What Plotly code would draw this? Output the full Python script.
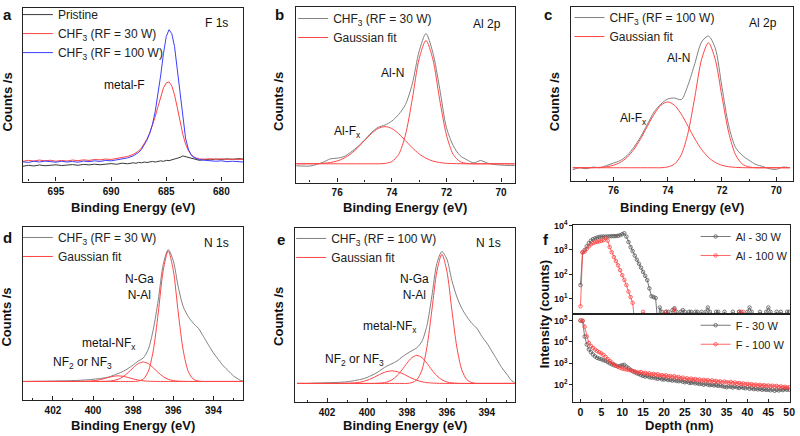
import plotly.graph_objects as go

W, H = 800, 436
FONT = "Liberation Sans, Arial, sans-serif"
AX = "#222222"
GRAY = "#808080"
DARK = "#3a3a3a"
RED = "#ff4545"
BLUE = "#3d3dff"

# ---------------- panel a : F 1s ----------------
a_be = [698, 697.5, 697, 696.5, 696, 695.5, 695, 694.5, 694, 693.5, 693, 692.5, 692, 691.5, 691, 690.5,
        690, 689.5, 689, 688.5,
        688, 687.75, 687.5, 687.25, 687, 686.75, 686.5, 686.25, 686, 685.75, 685.5, 685.25, 685, 684.75,
        684.5, 684.25, 684, 683.75, 683.5, 683.25, 683, 682.75, 682.5, 682.25, 682,
        681.5, 681, 680.5, 680, 679.5, 679, 678.5, 678]
a_pristine = [15.5, 16.5, 15.8, 16.8, 16.0, 16.3, 17.0, 16.2, 16.8, 17.2, 16.5, 17.4, 16.9, 17.6, 17.0, 17.8,
              18.2, 17.5, 18.6, 18.0,
              19.0, 18.5, 19.4, 19.0, 19.8, 19.3, 20.0, 20.4, 19.8, 20.6, 21.0, 20.5, 21.5, 21.2, 22.0, 22.8,
              23.5, 24.5, 26.0, 25.2, 24.8, 23.8, 23.2, 22.0, 21.5,
              22.5, 22.0, 22.8, 22.3, 23.0, 22.5, 23.2, 22.8]
a_rf30 = [20.5, 21.5, 20.8, 21.8, 21.0, 21.6, 20.6, 21.4, 20.8, 21.8, 21.2, 22.0, 21.4, 22.4, 22.0, 22.8,
          22.4, 23.4, 24.0, 25.5,
          27.5, 29.0, 31.0, 34.0, 38.0, 43.0, 49.0, 57.0, 66.0, 76.0, 86.0, 95.0, 100.0, 101.0, 97.0, 88.0,
          75.0, 61.0, 48.0, 38.0, 31.5, 27.5, 25.0, 23.8, 23.0,
          22.6, 23.2, 22.5, 23.0, 22.4, 22.8, 22.2, 22.6]
a_rf100 = [20.0, 19.4, 20.6, 19.8, 20.8, 20.0, 19.6, 20.6, 19.8, 20.4, 19.6, 20.8, 20.2, 21.0, 20.4, 21.4,
           21.0, 22.0, 22.8, 24.0,
           26.0, 27.5, 29.5, 32.5, 37.0, 42.0, 49.0, 58.0, 71.0, 88.0, 108.0, 130.0, 147.0, 154.0, 150.0,
           137.0, 114.0, 88.0, 63.0, 44.0, 33.0, 27.0, 24.5, 23.0, 22.2,
           21.5, 21.0, 20.6, 21.0, 20.2, 20.6, 20.0, 19.8]

# ---------------- panel b : Al 2p, 30 W ----------------
b_be = [77.5, 77.25, 77.0, 76.75, 76.5, 76.25, 76.0, 75.75, 75.5, 75.25, 75.0, 74.75, 74.5, 74.25, 74.0,
        73.75, 73.5, 73.25, 73.0, 72.75, 72.5, 72.25, 72.0, 71.75, 71.5, 71.25, 71.0, 70.75, 70.5, 70.25,
        70.0, 69.75, 69.5]
b_meas = [17.0, 16.7, 16.7, 18.3, 20.7, 24.0, 24.7, 26.3, 30.7, 36.3, 43.0, 50.5, 56.0, 58.3, 62.3, 69.0,
          79.0, 100.0, 133.0, 151.0, 132.0, 95.7, 55.7, 37.3, 27.3, 23.0, 20.0, 22.3, 19.7, 18.3, 17.7,
          17.3, 17.3]
b_alfx = [19.0, 19.0, 19.1, 19.2, 19.5, 20.3, 21.8, 24.7, 29.1, 35.2, 42.5, 49.5, 54.8, 56.7, 54.8, 49.5,
          42.5, 35.2, 29.1, 24.7, 21.8, 20.3, 19.5, 19.2, 19.1, 19.0, 19.0, 19.0, 19.0, 19.0, 19.0, 19.0,
          19.0]
b_aln = [19.0, 19.0, 19.0, 19.0, 19.0, 19.0, 19.0, 19.0, 19.0, 19.0, 19.0, 19.0, 19.0, 19.4, 21.2, 28.4,
         48.2, 84.5, 125.4, 144.0, 125.4, 84.5, 48.2, 28.4, 21.2, 19.4, 19.0, 19.0, 19.0, 19.0, 19.0, 19.0,
         19.0]

# ---------------- panel c : Al 2p, 100 W ----------------
c_be = [77.5, 77.25, 77.0, 76.75, 76.5, 76.25, 76.0, 75.75, 75.5, 75.25, 75.0, 74.75, 74.5, 74.25, 74.0,
        73.75, 73.5, 73.25, 73.0, 72.75, 72.5, 72.25, 72.0, 71.75, 71.5, 71.25, 71.0, 70.75, 70.5, 70.25,
        70.0, 69.75, 69.5]
c_meas = [11.5, 13.5, 12.5, 14.2, 13.5, 15.8, 18.2, 20.8, 25.8, 34.2, 44.8, 57.5, 70.2, 78.2, 83.2, 84.2,
          82.5, 97.5, 119.2, 141.0, 147.0, 135.0, 95.0, 56.0, 34.0, 26.0, 21.0, 16.8, 14.8, 12.5, 11.8,
          14.2, 13.5]
c_alfx = [13.5, 13.5, 13.5, 13.6, 13.9, 14.5, 16.0, 18.9, 24.0, 32.0, 42.8, 55.5, 67.8, 76.9, 80.2, 76.9,
          67.8, 55.5, 42.8, 32.0, 24.0, 18.9, 16.0, 14.5, 13.9, 13.6, 13.5, 13.5, 13.5, 13.5, 13.5, 13.5,
          13.5]
c_aln = [13.5, 13.5, 13.5, 13.5, 13.5, 13.5, 13.5, 13.5, 13.5, 13.5, 13.5, 13.5, 13.5, 13.5, 14.3, 17.2,
         26.7, 49.0, 85.4, 123.5, 140.2, 123.5, 85.4, 49.0, 26.7, 17.2, 14.3, 13.5, 13.5, 13.5, 13.5, 13.5,
         13.5]

# ---------------- panels d / e : N 1s ----------------
n_be = [403.5, 403.25, 403.0, 402.75, 402.5, 402.25, 402.0, 401.75, 401.5, 401.25, 401.0, 400.75, 400.5,
        400.25, 400.0, 399.75, 399.5, 399.25, 399.0, 398.75, 398.5, 398.25, 398.0, 397.75, 397.5, 397.25,
        397.0, 396.75, 396.5, 396.25, 396.0, 395.75, 395.5, 395.25, 395.0, 394.75, 394.5, 394.25, 394.0,
        393.75, 393.5, 393.25, 393.0, 392.75, 392.5]
d_meas = [19.3, 19.3, 19.4, 19.5, 19.5, 19.6, 19.7, 19.8, 19.9, 20.0, 20.2, 20.4, 20.7, 21.0, 21.5, 22.0,
          22.7, 23.6, 25.4, 27.3, 29.5, 32.5, 36.0, 40.0, 43.0, 51.7, 71.7, 101.7, 138.0, 153.0, 141.7,
          115.0, 95.0, 85.0, 78.3, 73.3, 65.0, 56.5, 48.3, 41.5, 35.0, 30.0, 25.0, 21.5, 19.3]
d_nga = [19.3, 19.3, 19.3, 19.3, 19.3, 19.3, 19.3, 19.3, 19.3, 19.3, 19.3, 19.3, 19.3, 19.3, 19.3, 19.3,
         19.3, 19.3, 19.3, 19.3, 19.3, 19.3, 19.3, 19.7, 21.6, 29.3, 50.3, 88.7, 132.0, 151.7, 132.0, 88.7,
         50.3, 29.3, 21.6, 19.7, 19.3, 19.3, 19.3, 19.3, 19.3, 19.3, 19.3, 19.3, 19.3]
d_nfx = [19.3, 19.3, 19.3, 19.3, 19.3, 19.3, 19.3, 19.3, 19.3, 19.3, 19.3, 19.3, 19.3, 19.3, 19.3, 19.3,
         19.4, 19.6, 20.2, 21.5, 24.2, 28.3, 33.2, 37.4, 39.0, 37.4, 33.2, 28.3, 24.2, 21.5, 20.2, 19.6,
         19.4, 19.3, 19.3, 19.3, 19.3, 19.3, 19.3, 19.3, 19.3, 19.3, 19.3, 19.3, 19.3]
d_nf23 = [19.3, 19.3, 19.3, 19.3, 19.3, 19.3, 19.3, 19.3, 19.3, 19.3, 19.3, 19.3, 19.4, 19.55, 19.95, 20.7,
          21.9, 23.3, 24.5, 25.0, 24.5, 23.3, 21.9, 20.7, 19.95, 19.55, 19.4, 19.3, 19.3, 19.3, 19.3, 19.3,
          19.3, 19.3, 19.3, 19.3, 19.3, 19.3, 19.3, 19.3, 19.3, 19.3, 19.3, 19.3, 19.3]
e_meas = [19.3, 19.3, 19.3, 19.5, 19.7, 19.8, 20.0, 20.1, 20.3, 20.6, 21.0, 21.7, 22.7, 23.7, 25.3, 27.7,
          30.3, 33.7, 37.0, 39.3, 42.0, 46.0, 49.5, 52.5, 55.5, 62.0, 78.0, 108.0, 141.0, 153.0, 145.3,
          123.7, 107.0, 95.3, 87.0, 80.3, 75.3, 67.0, 60.3, 52.0, 43.7, 35.3, 28.7, 22.0, 19.3]
e_nga = [19.3, 19.3, 19.3, 19.3, 19.3, 19.3, 19.3, 19.3, 19.3, 19.3, 19.3, 19.3, 19.3, 19.3, 19.3, 19.3,
         19.3, 19.3, 19.3, 19.3, 19.3, 19.3, 19.3, 20.1, 23.1, 32.9, 56.0, 93.7, 133.0, 150.3, 133.0, 93.7,
         56.0, 32.9, 23.1, 20.1, 19.3, 19.3, 19.3, 19.3, 19.3, 19.3, 19.3, 19.3, 19.3]
e_nfx = [19.3, 19.3, 19.3, 19.3, 19.3, 19.3, 19.3, 19.3, 19.3, 19.3, 19.3, 19.3, 19.3, 19.3, 19.3, 19.3,
         19.45, 19.8, 20.8, 23.0, 27.0, 33.0, 39.8, 45.5, 47.7, 45.5, 39.8, 33.0, 27.0, 23.0, 20.8, 19.8,
         19.45, 19.3, 19.3, 19.3, 19.3, 19.3, 19.3, 19.3, 19.3, 19.3, 19.3, 19.3, 19.3]
e_nf23 = [19.3, 19.3, 19.3, 19.3, 19.3, 19.3, 19.3, 19.3, 19.3, 19.35, 19.45, 19.7, 20.1, 21.0, 22.5, 24.5,
          27.0, 29.5, 31.3, 32.0, 31.3, 29.5, 27.0, 24.5, 22.5, 21.0, 20.1, 19.7, 19.45, 19.35, 19.3, 19.3,
          19.3, 19.3, 19.3, 19.3, 19.3, 19.3, 19.3, 19.3, 19.3, 19.3, 19.3, 19.3, 19.3]

# ---------------- panel f : depth profiles ----------------
f_depth = [0, 0.5, 1, 1.5, 2, 2.5, 3, 3.5, 4, 4.5, 5, 5.5, 6, 6.5, 7, 7.5, 8, 8.5, 9, 9.5,
           10, 10.5, 11, 11.5, 12, 12.5, 13, 13.5, 14, 14.5, 15, 15.5, 16, 16.5, 17, 17.5, 18, 18.5, 19, 19.5,
           20, 20.5, 21, 21.5, 22, 22.5, 23, 23.5, 24, 24.5, 25, 25.5, 26, 26.5, 27, 27.5, 28, 28.5, 29, 29.5,
           30, 30.5, 31, 31.5, 32, 32.5, 33, 33.5, 34, 34.5, 35, 35.5, 36, 36.5, 37, 37.5, 38, 38.5, 39, 39.5,
           40, 40.5, 41, 41.5, 42, 42.5, 43, 43.5, 44, 44.5, 45, 45.5, 46, 46.5, 47, 47.5, 48, 48.5, 49, 49.5,
           50]
f_al30 = [37, 800, 1000, 1400, 1900, 2400, 2750, 3000, 3200, 3400, 3500, 3550, 3500, 3550, 3600, 3650, 3650,
          3700, 3800, 4000,
          4400, 4800, 3500, 2100, 1300, 900, 590, 400, 275, 190, 128, 88, 59, 27, 13, 12, 11, 1, 4.5, 3,
          1, 3, 3, 1, 3.5, 4.2, 3, 1, 3, 3.5, 3, 1, 3, 3, 1, 3, 3, 1, 3, 1,
          3, 4.5, 3, 1, 1, 3, 3, 1, 1, 3, 1, 1, 1, 3, 1, 1, 3, 3, 1, 1,
          3, 4.5, 3, 1, 1, 1, 3, 1, 1, 3, 4.5, 3, 1, 1, 3, 1, 3, 1, 1, 3,
          3]
f_al100 = [5, 800, 850, 1100, 1400, 1700, 1900, 2050, 2150, 2250, 2350, 2500, 3000, 2400, 1300, 800, 510,
           350, 235, 150,
           94, 60, 37, 20, 12, 7, 1, 1, 1, 1, 3, 1, 1, 1, 1, 1, 1, 1, 1, 1,
           1, 3, 1, 1, 1, 3.8, 1, 1, 1, 1, 1, 1, 1, 1, 1, 1, 1, 1, 1, 1,
           1, 1, 1, 1, 1, 1, 1, 1, 1, 1, 1, 1, 1, 1, 1, 1, 3, 1, 3, 1,
           1, 1, 1, 1, 1, 1, 1, 1, 1, 1, 1, 1, 1, 1, 1, 1, 1, 1, 1, 1,
           1]
f_f30 = [100000, 95000, 18000, 7600, 4500, 3300, 2600, 2100, 1800, 1650,
         1550, 1400, 1300, 1150, 1000, 900, 820, 760, 700, 760,
         820, 850, 700, 600, 500, 430, 380, 340, 316, 280,
         260, 240, 255, 225, 215, 220, 200, 190, 205, 180,
         175, 185, 165, 170, 155, 165, 150, 145, 155, 138,
         130, 140, 125, 120, 130, 115, 118, 108, 112, 100,
         110, 102, 95, 100, 92, 96, 88, 92, 85, 80,
         76, 84, 80, 74, 82, 76, 70, 78, 72, 68,
         76, 64, 70, 62, 66, 60, 64, 58, 62, 57,
         59, 55, 60, 52, 58, 54, 60, 56, 62, 58,
         59]
f_f100 = [100000, 100000, 52000, 18000, 9000, 6500, 5300, 4400, 3700, 3300,
          2900, 2500, 2000, 1600, 1300, 1080, 900, 780, 700, 620,
          570, 540, 520, 490, 480, 430, 420, 380, 370, 390,
          340, 360, 320, 340, 300, 320, 290, 310, 270, 280,
          260, 275, 240, 255, 230, 250, 215, 230, 200, 215,
          185, 200, 175, 195, 170, 185, 165, 175, 155, 170,
          155, 165, 145, 160, 140, 150, 135, 145, 130, 140,
          130, 125, 135, 118, 128, 112, 120, 108, 115, 104,
          110, 100, 106, 96, 102, 92, 98, 90, 95, 88,
          92, 86, 90, 82, 88, 78, 84, 76, 80, 74,
          76]
f_depth_ticks = [0, 5, 10, 15, 20, 25, 30, 35, 40, 45, 50]
f_top_tickvals = [10, 100, 1000, 10000]
f_top_ticktext = ["10<sup>1</sup>", "10<sup>2</sup>", "10<sup>3</sup>", "10<sup>4</sup>"]
f_bot_tickvals = [100, 1000, 10000, 100000]
f_bot_ticktext = ["10<sup>2</sup>", "10<sup>3</sup>", "10<sup>4</sup>", "10<sup>5</sup>"]

CHF30 = "CHF<sub>3</sub> (RF = 30 W)"
CHF100 = "CHF<sub>3</sub> (RF = 100 W)"


def px(x):
    return x / W


def py(y):
    return 1 - y / H


fig = go.Figure()


def add_line(x, y, color, name, xa, ya, legend, show, shape="spline", width=1.0):
    fig.add_trace(go.Scatter(x=x, y=y, mode="lines", name=name, xaxis=xa, yaxis=ya, legend=legend,
                             showlegend=show, hoverinfo="skip",
                             line=dict(color=color, width=width, shape=shape, smoothing=0.8)))


# a
add_line(a_be, a_pristine, DARK, "Pristine", "x", "y", "legend", True, shape="linear")
add_line(a_be, a_rf30, RED, CHF30, "x", "y", "legend", True, shape="linear")
add_line(a_be, a_rf100, BLUE, CHF100, "x", "y", "legend", True, shape="linear")
# b
add_line(b_be, b_meas, GRAY, CHF30, "x2", "y2", "legend2", True)
add_line(b_be, b_alfx, RED, "Gaussian fit", "x2", "y2", "legend2", True)
add_line(b_be, b_aln, RED, "Gaussian fit", "x2", "y2", "legend2", False)
# c
add_line(c_be, c_meas, GRAY, CHF100, "x3", "y3", "legend3", True)
add_line(c_be, c_alfx, RED, "Gaussian fit", "x3", "y3", "legend3", True)
add_line(c_be, c_aln, RED, "Gaussian fit", "x3", "y3", "legend3", False)
# d
add_line(n_be, d_meas, GRAY, CHF30, "x4", "y4", "legend4", True)
add_line(n_be, d_nga, RED, "Gaussian fit", "x4", "y4", "legend4", True)
add_line(n_be, d_nfx, RED, "Gaussian fit", "x4", "y4", "legend4", False)
add_line(n_be, d_nf23, RED, "Gaussian fit", "x4", "y4", "legend4", False)
# e
add_line(n_be, e_meas, GRAY, CHF100, "x5", "y5", "legend5", True)
add_line(n_be, e_nga, RED, "Gaussian fit", "x5", "y5", "legend5", True)
add_line(n_be, e_nfx, RED, "Gaussian fit", "x5", "y5", "legend5", False)
add_line(n_be, e_nf23, RED, "Gaussian fit", "x5", "y5", "legend5", False)


def add_prof(y, color, name, xa, ya, legend):
    fig.add_trace(go.Scatter(x=f_depth, y=y, mode="lines+markers", name=name, xaxis=xa, yaxis=ya,
                             legend=legend, hoverinfo="skip",
                             line=dict(color=color, width=0.8),
                             marker=dict(symbol="circle-open", size=3.5, color=color, line=dict(width=0.8))))


add_prof(f_al30, "#555555", "Al - 30 W", "x6", "y6", "legend6")
add_prof(f_al100, "#ff4040", "Al - 100 W", "x6", "y6", "legend6")
add_prof(f_f30, "#555555", "F - 30 W", "x7", "y7", "legend7")
add_prof(f_f100, "#ff4040", "F - 100 W", "x7", "y7", "legend7")

tickfont = dict(family=FONT, size=10, color="#111111", weight="bold")


def spec_x(x0, x1, rng, dtick, minor, anchor):
    return dict(domain=[px(x0), px(x1)], range=rng, anchor=anchor, showline=True, linecolor=AX,
                linewidth=1.2, mirror=True, ticks="inside", ticklen=4, tickwidth=1, tickcolor=AX,
                tick0=0, dtick=dtick, minor=dict(ticks="inside", ticklen=2, tick0=0, dtick=minor,
                                                 tickcolor=AX, tickwidth=1),
                tickfont=tickfont, showgrid=False, zeroline=False, fixedrange=True)


def spec_y(y0, y1, anchor):
    return dict(domain=[py(y1), py(y0)], range=[0, y1 - y0], anchor=anchor, showline=True, linecolor=AX,
                linewidth=1.2, mirror=True, ticks="", showticklabels=False, showgrid=False,
                zeroline=False, fixedrange=True)


layout = dict(
    width=W, height=H, margin=dict(l=0, r=0, t=0, b=0), paper_bgcolor="white", plot_bgcolor="white",
    font=dict(family=FONT, size=12, color="#111111"),
    xaxis=spec_x(23, 245, [698, 678], 5, 2.5, "y"),
    yaxis=spec_y(2, 178, "x"),
    xaxis2=spec_x(298, 518, [77.5, 69.5], 2, 1, "y2"),
    yaxis2=spec_y(1, 179, "x2"),
    xaxis3=spec_x(575, 797.5, [77.55, 69.4], 2, 1, "y3"),
    yaxis3=spec_y(1, 177.5, "x3"),
    xaxis4=spec_x(23, 245, [403.5, 392.5], 2, 1, "y4"),
    yaxis4=spec_y(224, 400, "x4"),
    xaxis5=spec_x(297, 518, [403.6, 392.6], 2, 1, "y5"),
    yaxis5=spec_y(225, 402, "x5"),
)

f_x_common = dict(domain=[px(577), px(795)], range=[-1.7, 50.2], showline=True, linecolor=AX, linewidth=1.2,
                  mirror=True, showgrid=False, zeroline=False, fixedrange=True,
                  tickmode="array", tickvals=f_depth_ticks, tickcolor=AX, tickwidth=1)
layout["xaxis6"] = dict(f_x_common, anchor="y6", ticks="", showticklabels=False)
layout["xaxis7"] = dict(f_x_common, anchor="y7", ticks="inside", ticklen=3, ticklabeloverflow="allow",
                        tickfont=dict(family=FONT, size=10.5, color="#111111", weight="bold"))
f_y_common = dict(type="log", showline=True, linecolor=AX, linewidth=1.2, mirror=True, showgrid=False,
                  zeroline=False, fixedrange=True, ticks="outside", ticklen=3, tickcolor=AX, tickwidth=1,
                  tickfont=dict(family=FONT, size=9, color="#111111", weight="bold"))
layout["yaxis6"] = dict(f_y_common, anchor="x6", domain=[py(312), py(222)], range=[0.4, 4.02],
                        tickvals=f_top_tickvals, ticktext=f_top_ticktext)
layout["yaxis7"] = dict(f_y_common, anchor="x7", domain=[py(402), py(312)], range=[1.17, 5.32],
                        tickvals=f_bot_tickvals, ticktext=f_bot_ticktext)

leg = dict(bgcolor="rgba(0,0,0,0)", borderwidth=0, font=dict(family=FONT, size=12, color="#222222"),
           itemwidth=30, tracegroupgap=0, xanchor="left", yanchor="top", itemclick=False,
           itemdoubleclick=False)
legf = dict(leg, font=dict(family=FONT, size=11, color="#222222"))
layout["legend"] = dict(leg, x=px(18), y=py(-6))
layout["legend2"] = dict(leg, x=px(295), y=py(-2))
layout["legend3"] = dict(leg, x=px(573), y=py(-3))
layout["legend4"] = dict(leg, x=px(18), y=py(220))
layout["legend5"] = dict(leg, x=px(293), y=py(221))
layout["legend6"] = dict(legf, x=px(700), y=py(219))
layout["legend7"] = dict(legf, x=px(700), y=py(309))

anns = []


def note(text, x, y, size=12, bold=False, angle=0):
    anns.append(dict(text=text, x=px(x), y=py(y), xref="paper", yref="paper", showarrow=False,
                     xanchor="center", yanchor="middle", textangle=angle,
                     font=dict(family=FONT, size=size, color="#111111",
                               weight="bold" if bold else "normal")))


# panel letters
for t, x, y in [("a", 8, 9), ("b", 281, 9), ("c", 551, 9), ("d", 8, 235), ("e", 283, 237), ("f", 549, 237)]:
    note(t, x, y, size=15, bold=True)
# in-plot labels
note("F 1s", 218, 17)
note("metal-F", 125, 80)
note("Al 2p", 490, 18)
note("Al-N", 395, 68)
note("Al-F<sub>x</sub>", 350, 128)
note("Al 2p", 768, 17)
note("Al-N", 683, 53)
note("Al-F<sub>x</sub>", 637, 115)
note("N 1s", 218, 240)
note("N-Ga<br>N-Al", 140, 285)
note("metal-NF<sub>x</sub>", 110, 343)
note("NF<sub>2</sub> or NF<sub>3</sub>", 83, 362)
note("N 1s", 492, 240)
note("N-Ga<br>N-Al", 417, 285)
note("metal-NF<sub>x</sub>", 392, 325)
note("NF<sub>2</sub> or NF<sub>3</sub>", 357, 359)
# axis titles
for x in [134, 408, 686]:
    note("Binding Energy (eV)", x, 204, size=13, bold=True)
for x in [134, 408]:
    note("Binding Energy (eV)", x, 425, size=13, bold=True)
note("Depth (nm)", 684, 425, size=13, bold=True)
note("Counts /s", 8, 97, size=13, bold=True, angle=-90)
note("Counts /s", 280, 97, size=13, bold=True, angle=-90)
note("Counts /s", 558, 97, size=13, bold=True, angle=-90)
note("Counts /s", 7, 315, size=13, bold=True, angle=-90)
note("Counts /s", 280, 315, size=13, bold=True, angle=-90)
note("Intensity (counts)", 548, 313, size=13, bold=True, angle=-90)

layout["annotations"] = anns
fig.update_layout(**layout)
fig.write_html("out.html")
